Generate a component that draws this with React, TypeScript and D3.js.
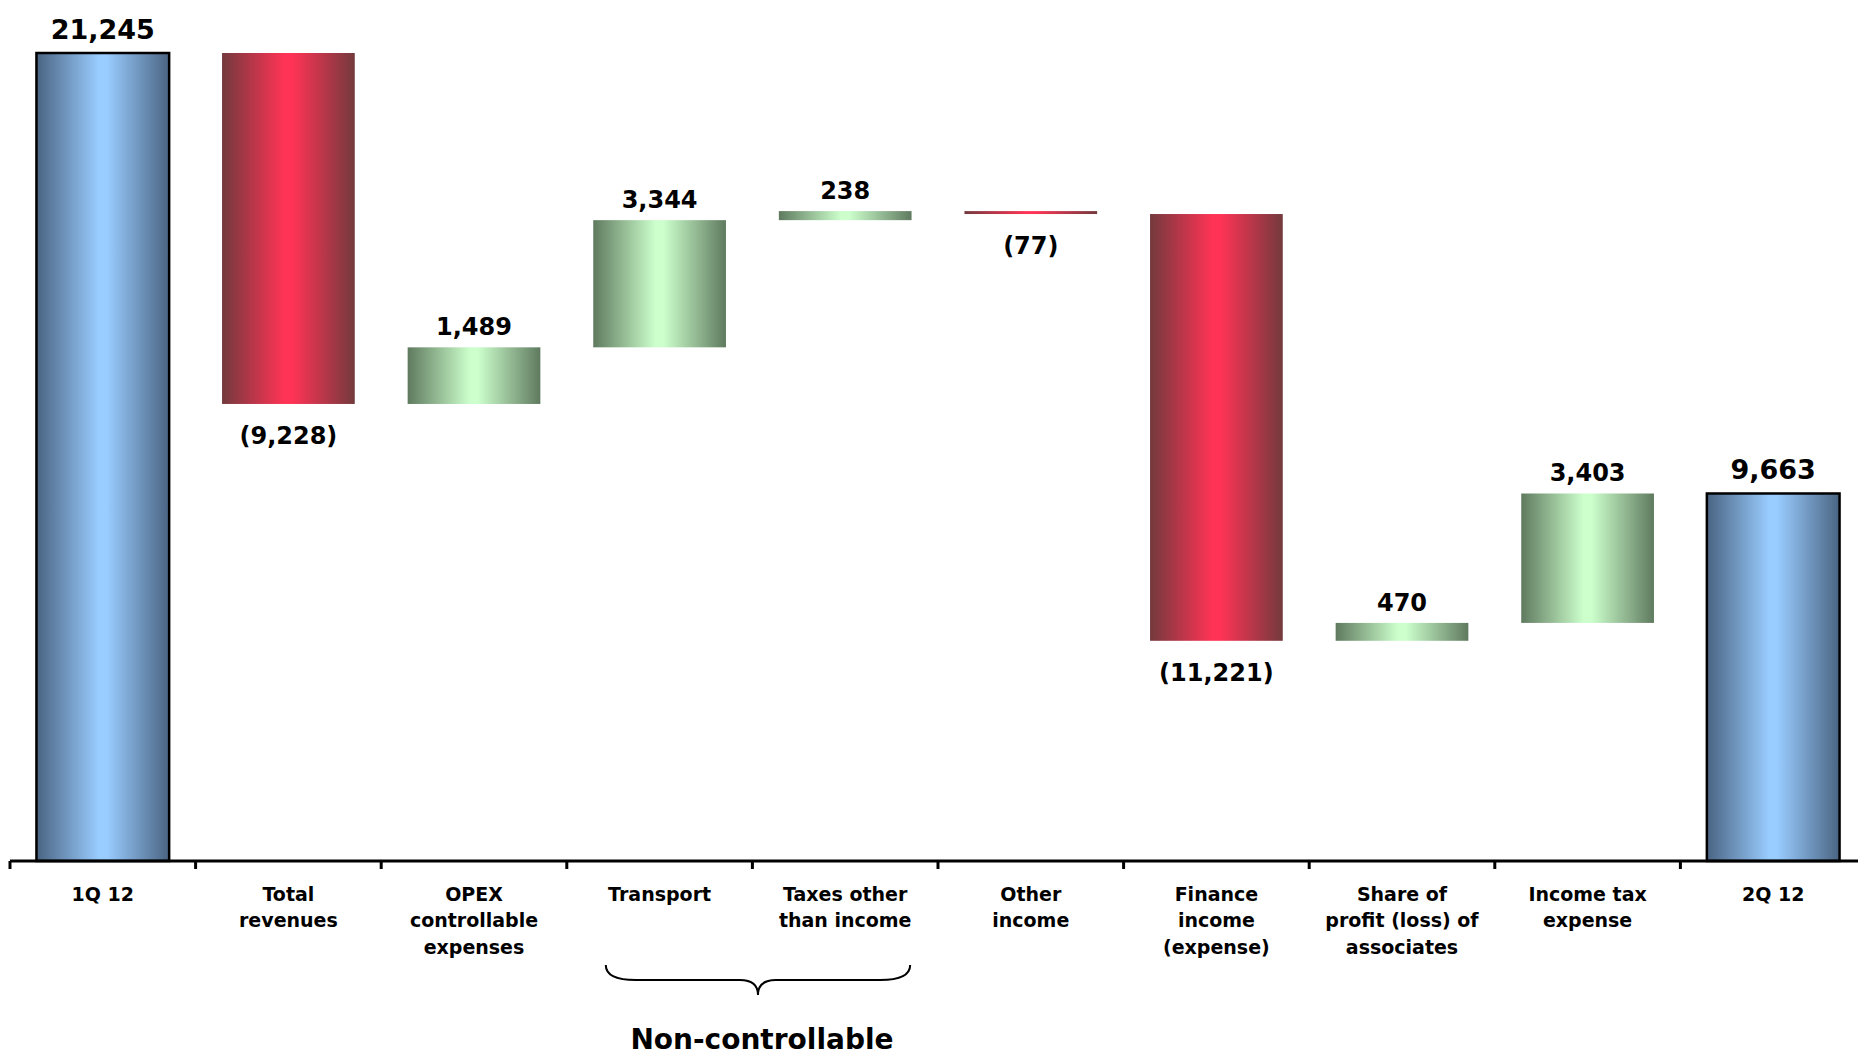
import React, { useEffect } from "react";
import * as d3 from "d3";

const categories = [
  "1Q 12",
  "Total revenues",
  "OPEX controllable expenses",
  "Transport",
  "Taxes other than income",
  "Other income",
  "Finance income (expense)",
  "Share of profit (loss) of associates",
  "Income tax expense",
  "2Q 12",
];
const categoryLines = [
  ["1Q 12"],
  ["Total", "revenues"],
  ["OPEX", "controllable", "expenses"],
  ["Transport"],
  ["Taxes other", "than income"],
  ["Other", "income"],
  ["Finance", "income", "(expense)"],
  ["Share of", "profit (loss) of", "associates"],
  ["Income tax", "expense"],
  ["2Q 12"],
];
const values = [21245, -9228, 1489, 3344, 238, -77, -11221, 470, 3403, 9663];
const isTotal = [true, false, false, false, false, false, false, false, false, true];
const groupLabel = "Non-controllable";
const groupStart = "Transport";
const groupEnd = "Taxes other than income";

const W = 1858;
const H = 1057;

export default function App() {
  useEffect(() => {
    document.body.style.margin = "0";
  }, []);

  const x = d3.scaleBand<string>().domain(categories).range([10, 10 + 185.6 * categories.length]).padding(0);
  const bw = x.bandwidth();
  const barW = bw * 0.715;
  const y = d3.scaleLinear().domain([0, 21245]).range([861, 53]);

  let running = 0;
  const bars = values.map((v, i) => {
    let lo: number, hi: number, kind: string;
    if (isTotal[i]) {
      lo = 0;
      hi = v;
      running = v;
      kind = "total";
    } else {
      const s = running;
      const e = running + v;
      lo = Math.min(s, e);
      hi = Math.max(s, e);
      running = e;
      kind = v >= 0 ? "up" : "down";
    }
    return { cat: categories[i], v, lo, hi, kind, lines: categoryLines[i] };
  });

  const fmt = d3.format(",");
  const labelText = (v: number) => (v < 0 ? `(${fmt(-v)})` : fmt(v));

  const xl = (x(groupStart) as number) + 0.21 * bw;
  const xr = (x(groupEnd) as number) + 0.85 * bw;
  const xc = (xl + xr) / 2;
  const braceTop = 965;
  const braceMid = 980;
  const braceTip = 995;
  const bracePath = `M${xl},${braceTop} Q${xl},${braceMid} ${xl + 30},${braceMid} L${xc - 18},${braceMid} Q${xc},${braceMid} ${xc},${braceTip} Q${xc},${braceMid} ${xc + 18},${braceMid} L${xr - 30},${braceMid} Q${xr},${braceMid} ${xr},${braceTop}`;

  const grads: Record<string, [string, string]> = {
    total: ["#4a6482", "#99ccff"],
    down: ["#733a3d", "#ff3355"],
    up: ["#5f7a5f", "#ccffcc"],
  };

  const axisY = 861;

  return (
    <svg
      width={W}
      height={H}
      style={{ position: "absolute", left: 0, top: 0, background: "#fff" }}
      fontFamily="'DejaVu Sans', sans-serif"
    >
      <defs>
        {Object.entries(grads).map(([k, [dark, light]]) => (
          <linearGradient key={k} id={`g-${k}`} x1="0" x2="1" y1="0" y2="0">
            <stop offset="0" stopColor={dark} />
            <stop offset="0.47" stopColor={light} />
            <stop offset="0.53" stopColor={light} />
            <stop offset="1" stopColor={dark} />
          </linearGradient>
        ))}
      </defs>
      <rect x={0} y={0} width={W} height={H} fill="#fff" />
      {bars.map((b, i) => {
        const cx = (x(b.cat) as number) + bw / 2;
        const top = y(b.hi);
        const bottom = y(b.lo);
        return (
          <g key={i}>
            <rect
              x={cx - barW / 2}
              y={top}
              width={barW}
              height={Math.max(bottom - top, 1)}
              fill={`url(#g-${b.kind})`}
              stroke={b.kind === "total" ? "#000" : "none"}
              strokeWidth={2.5}
            />
            {b.kind === "down" ? (
              <text
                x={cx}
                y={bottom + 40}
                textAnchor="middle"
                fontWeight="bold"
                fontSize={24}
                fill="#000"
              >
                {labelText(b.v)}
              </text>
            ) : (
              <text
                x={cx}
                y={top - (b.kind === "total" ? 14 : 12)}
                textAnchor="middle"
                fontWeight="bold"
                fontSize={b.kind === "total" ? 27 : 24}
                fill="#000"
              >
                {labelText(b.v)}
              </text>
            )}
            {b.lines.map((ln, j) => (
              <text
                key={j}
                x={cx}
                y={900.5 + j * 26.5}
                textAnchor="middle"
                fontWeight="bold"
                fontSize={19}
                fill="#000"
              >
                {ln}
              </text>
            ))}
          </g>
        );
      })}
      <line x1={x(categories[0]) as number} x2={W} y1={axisY} y2={axisY} stroke="#000" strokeWidth={3} />
      {d3.range(categories.length + 1).map((i) => {
        const tx = 10 + i * bw;
        return <line key={i} x1={tx} x2={tx} y1={axisY} y2={axisY + 8} stroke="#000" strokeWidth={3} />;
      })}
      <path d={bracePath} fill="none" stroke="#000" strokeWidth={2} />
      <text x={xc + 4} y={1049} textAnchor="middle" fontWeight="bold" fontSize={28} fill="#000">
        {groupLabel}
      </text>
    </svg>
  );
}
